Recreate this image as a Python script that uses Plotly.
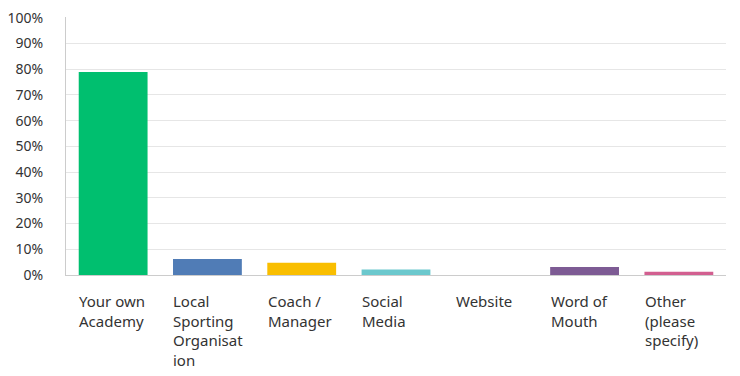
import plotly.graph_objects as go

categories = ["Your own Academy", "Local Sporting Organisation", "Coach / Manager",
              "Social Media", "Website", "Word of Mouth", "Other (please specify)"]
tick_text = ["Your own<br>Academy", "Local<br>Sporting<br>Organisat<br>ion", "Coach /<br>Manager",
             "Social<br>Media", "Website", "Word of<br>Mouth", "Other<br>(please<br>specify)"]
values = [78.9, 6.2, 4.8, 2.1, 0.0, 3.1, 1.3]
colors = ["#00BF6F", "#507CB6", "#F9BE00", "#6BC8CD", "#FF8B4F", "#7D5B94", "#D25F90"]
y_ticks = [0, 10, 20, 30, 40, 50, 60, 70, 80, 90, 100]
y_tick_labels = [f"{v}%" for v in y_ticks]

font_family = "Noto Sans, Open Sans, sans-serif"

fig = go.Figure(go.Bar(x=categories, y=values, marker=dict(color=colors, line=dict(width=0)),
                       hoverinfo="x+y"))

for cat, txt in zip(categories, tick_text):
    fig.add_annotation(x=cat, y=0, xref="x", yref="y", text=txt, showarrow=False,
                       xanchor="left", yanchor="top", align="left", xshift=-36, yshift=-14,
                       font=dict(family=font_family, size=15, color="#333333"))

# page body has an 8px margin; size the figure so the plot lands where the reference has it
fig.update_layout(
    width=732, height=368,
    margin=dict(l=58, r=14, t=9, b=101),
    paper_bgcolor="white", plot_bgcolor="white",
    bargap=0.27, showlegend=False,
    font=dict(family=font_family, size=15, color="#333333"),
)
fig.update_xaxes(showticklabels=False, showline=True, linecolor="#cccccc", linewidth=1,
                 ticks="", showgrid=False)
fig.update_yaxes(range=[0, 100.3], tickmode="array", tickvals=y_ticks, ticktext=y_tick_labels,
                 showgrid=True, gridcolor="#e6e6e6", gridwidth=1, showline=True,
                 linecolor="#cccccc", linewidth=1, zeroline=False, ticks="",
                 ticklabelstandoff=19, automargin=False, ticklabeloverflow="allow",
                 tickfont=dict(family=font_family, size=14, color="#333333"))

fig.write_html("out.html")
